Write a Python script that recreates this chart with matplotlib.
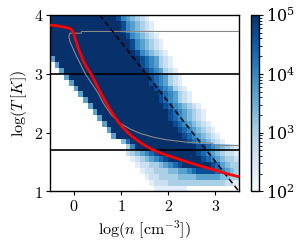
import numpy as np
import matplotlib
matplotlib.use("Agg")
import matplotlib.pyplot as plt
from matplotlib.colors import LogNorm

plt.rcParams['mathtext.fontset'] = 'cm'
plt.rcParams['font.family'] = ['DejaVu Serif']

# ---- data ----
# 2D histogram levels (rows from top y=3.9-4.0 down to y=1.0-1.1), 40 columns x in [-0.5,3.5]
# '.' = empty, '1'..'9' = log-count level (9 = saturated, 1e5)
hist_rows = [
    "99999999999999" + "8654321" + "." * 19,
    "9" * 15 + "8654321" + "." * 18,
    "9" * 15 + "8654321" + "." * 18,
    "9" * 16 + "8654321" + "." * 17,
    "9" * 17 + "8654321" + "." * 16,
    "9" * 17 + "8654321" + "." * 16,
    "9" * 18 + "8654321" + "." * 15,
    "5" + "9" * 18 + "8765321" + "." * 14,
    "." + "5" + "9" * 17 + "8765321" + "." * 14,
    ".." + "5" + "9" * 17 + "8765321" + "." * 13,
    "..." + "5" + "9" * 17 + "8765321" + "." * 12,
    "...." + "5" + "9" * 16 + "8765321" + "." * 12,
    "....." + "5" + "9" * 16 + "8765321" + "." * 11,
    "......" + "5" + "9" * 16 + "8765321" + "." * 10,
    "......." + "5" + "9" * 15 + "8765321" + "." * 10,
    "." * 8 + "5" + "9" * 15 + "87654321" + "." * 8,
    "." * 9 + "5" + "9" * 15 + "87654321" + "." * 7,
    "." * 10 + "5" + "9" * 14 + "87654321" + "." * 7,
    "." * 11 + "5" + "9" * 14 + "87654321" + "." * 6,
    "." * 12 + "5" + "9" * 14 + "87654321" + "." * 5,
    "." * 13 + "5" + "9" * 14 + "87654321" + "." * 4,
    "." * 15 + "47" + "9" * 12 + "87654321" + "." * 3,
    "." * 16 + "36" + "9" * 13 + "887654321",
    "." * 16 + "2345678" + "9" * 8 + "876543221",
    "." * 17 + "12345678" + "9" * 7 + "87654332",
    "." * 18 + "1223345678" + "9" * 6 + "875433",
    "." * 19 + "122333445567888876543",
    "." * 20 + "122" + "3333" + "4444" + "55555" + "4433",
    "." * 21 + "1" + "222" + "3" * 12 + "221",
    "." * 22 + "1" * 7 + "." * 11,
]
x_edges_range = (-0.5, 3.5)
y_edges_range = (1.0, 4.0)

# red (thick) curve
red_x = [-0.5, -0.3, -0.12, -0.05, -0.01, 0.04, 0.1, 0.2, 0.3, 0.365, 0.45, 0.55, 0.65, 0.75,
         0.85, 0.95, 1.05, 1.2, 1.4, 1.6, 1.75, 2.0, 2.3, 2.66, 3.0, 3.25, 3.5]
red_y = [3.83, 3.81, 3.78, 3.76, 3.71, 3.58, 3.43, 3.23, 3.08, 3.00, 2.87, 2.71, 2.56, 2.42,
         2.29, 2.18, 2.08, 1.96, 1.84, 1.74, 1.68, 1.61, 1.53, 1.44, 1.36, 1.30, 1.25]

# thin gray track
gray_x = [3.5, 0.17, 0.16, -0.08, -0.1, -0.08, 0.03, 0.24, 0.52, 0.63, 0.8, 0.98, 1.2, 1.4, 1.7,
          1.96, 2.38, 2.94, 2.96, 3.5]
gray_y = [3.72, 3.72, 3.69, 3.69, 3.64, 3.55, 3.35, 3.01, 2.67, 2.50, 2.30, 2.16, 2.06, 1.99, 1.92,
          1.88, 1.84, 1.82, 1.78, 1.78]

# dashed diagonal
dash_x = [0.55, 3.5]
dash_y = [4.0, 1.0]

# horizontal reference lines
hlines_y = [3.0, 1.7]

xticks = [0, 1, 2, 3]
yticks = [1, 2, 3, 4]
xtick_labels = ['$0$', '$1$', '$2$', '$3$']
ytick_labels = ['$1$', '$2$', '$3$', '$4$']
xlabel = r'$\log(n\ [\mathrm{cm}^{-3}])$'
ylabel = r'$\log(T\,[K])$'

# ---- build grid ----
nrows = len(hist_rows)
ncols = len(hist_rows[0])
Z = np.full((nrows, ncols), np.nan)
for i, row in enumerate(hist_rows):
    for k, c in enumerate(row):
        if c != '.':
            L = int(c)
            Z[nrows - 1 - i, k] = 10 ** (2 + 3 * L / 9)
Z = np.ma.masked_invalid(Z)
xe = np.linspace(x_edges_range[0], x_edges_range[1], ncols + 1)
ye = np.linspace(y_edges_range[0], y_edges_range[1], nrows + 1)

fig = plt.figure(figsize=(3.04, 2.47), dpi=100)
ax = fig.add_axes([0.1645, 0.2247, 0.6217, 0.7146])
cax = fig.add_axes([0.8247, 0.2247, 0.0273, 0.7146])

mesh = ax.pcolormesh(xe, ye, Z, cmap='Blues', norm=LogNorm(vmin=1e2, vmax=1e5),
                     shading='flat')
for yv in hlines_y:
    ax.axhline(yv, color='black', lw=1.2, zorder=3)
ax.plot(gray_x, gray_y, color='#888888', lw=0.8, zorder=4)
ax.plot(dash_x, dash_y, color='black', lw=1.1, ls=(0, (3.5, 2.2)), zorder=5)
ax.plot(red_x, red_y, color='red', lw=2.0, zorder=6, solid_joinstyle='round')

ax.set_xlim(*x_edges_range)
ax.set_ylim(*y_edges_range)
ax.set_xticks(xticks, labels=xtick_labels)
ax.set_yticks(yticks, labels=ytick_labels)
ax.tick_params(labelsize=11.5, length=3, width=0.8, pad=2)
ax.set_xlabel(xlabel, fontsize=11.5, labelpad=2)
ax.set_ylabel(ylabel, fontsize=11.5, labelpad=3)
for s in ax.spines.values():
    s.set_linewidth(1.0)

cb = fig.colorbar(mesh, cax=cax)
cb.ax.tick_params(labelsize=11.5, length=3, width=0.8, pad=2)
cb.ax.tick_params(which='minor', length=1.8, width=0.6)
cb.outline.set_linewidth(1.0)

fig.savefig('out.png', dpi=100)
